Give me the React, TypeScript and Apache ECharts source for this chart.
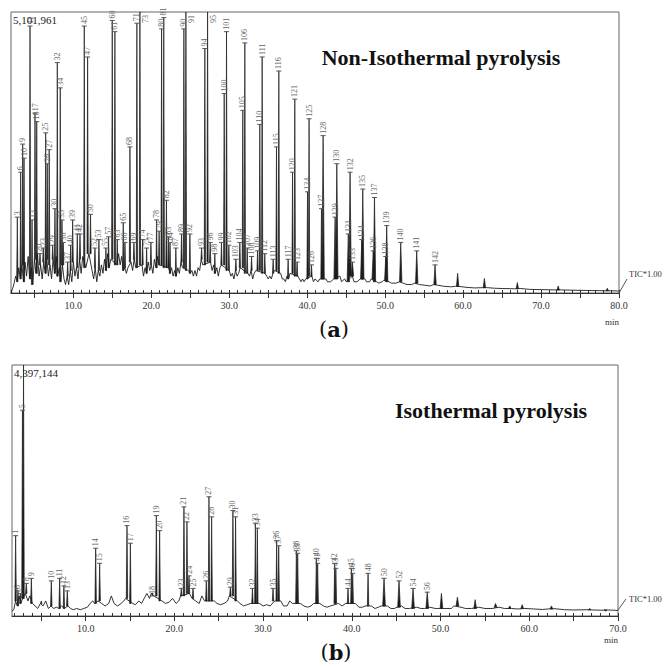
import React, { useEffect, useRef } from "react";
import * as echarts from "echarts";

// ---------- Panel (a): non-isothermal pyrolysis ----------
const FULL_SCALE_A = "5,101,961";
const X_MIN_A = 2;
const X_MAX_A = 80;
const MAJOR_TICKS_A = [5, 10, 15, 20, 25, 30, 35, 40, 45, 50, 55, 60, 65, 70, 75, 80];
const LABEL_TICKS_A = [10, 20, 30, 40, 50, 60, 70, 80];

// peak labels, retention times (min) and heights (% of full scale)
const PEAK_LABEL_A = ["3", "6", "9", "10", "11", "13", "17", "18", "20", "23", "25", "26", "27", "29", "30", "32", "34", "35", "36", "37", "40", "39", "41", "42", "45", "47", "50", "52", "53", "55", "57", "60", "61", "63", "65", "66", "68", "69", "71", "73", "74", "75", "77", "78", "79", "80", "81", "82", "83", "84", "87", "89", "90", "91", "92", "93", "94", "95", "96", "98", "99", "100", "101", "102", "103", "104", "105", "106", "107", "108", "109", "110", "111", "112", "113", "115", "116", "117", "120", "121", "123", "124", "125", "126", "127", "128", "129", "130", "131", "132", "133", "134", "135", "136", "137", "138", "139", "140", "141", "142", "", "", "", "", ""];
const PEAK_TIME_A = [2.81, 3.24, 3.5, 3.67, 4.44, 4.7, 5.08, 5.3, 5.72, 6.14, 6.45, 6.65, 6.9, 7.35, 7.64, 7.94, 8.32, 8.54, 8.7, 9.27, 9.65, 9.91, 10.5, 10.85, 11.4, 11.83, 12.2, 12.77, 13.28, 14.18, 14.52, 14.99, 15.33, 15.63, 16.4, 16.62, 17.26, 17.77, 18.15, 18.54, 18.88, 19.4, 19.95, 20.68, 21.0, 21.32, 21.6, 21.94, 22.2, 22.4, 23.15, 23.88, 24.18, 24.44, 24.95, 26.45, 26.87, 27.22, 27.55, 28.15, 29.0, 29.35, 29.65, 29.95, 30.85, 31.36, 31.74, 32.0, 32.3, 32.86, 33.63, 33.92, 34.22, 34.56, 35.63, 36.06, 36.36, 37.55, 38.12, 38.41, 38.7, 40.04, 40.24, 40.55, 41.83, 42.04, 43.58, 43.8, 45.27, 45.5, 45.8, 47.0, 47.13, 48.47, 48.63, 50.08, 50.2, 52.0, 54.05, 56.4, 59.3, 62.73, 66.96, 72.2, 78.5];
const PEAK_HEIGHT_A = [27, 43, 53, 48, 95, 26, 64, 61, 14, 16, 57, 46, 51, 17, 30, 82, 73, 26, 18, 11, 17, 26, 21, 21, 95, 84, 28, 16, 19, 16, 20, 97, 93, 19, 25, 18, 52, 18, 96, 104, 19, 16, 18, 26, 22, 94, 98, 33, 20, 18, 16, 21, 94, 105, 21, 16, 87, 103, 18, 14, 18, 71, 93, 17, 12, 18, 65, 89, 16, 13, 15, 60, 84, 14, 12, 52, 79, 12, 43, 69, 11, 36, 62, 10, 30, 56, 27, 46, 21, 43, 11, 19, 37, 15, 34, 13, 24, 18, 15, 10, 7, 5.2, 3.7, 2.5, 1.7];

// baseline trace [time, % of full scale]
const BASELINE_A = [
  [2.0, 0], [2.2, 1.5], [2.4, 3.5], [2.6, 6], [2.8, 4], [3.0, 9], [3.2, 5], [3.4, 10], [3.6, 4], [3.8, 11], [4.0, 6], [4.2, 13], [4.4, 5], [4.6, 9], [4.8, 3],
  [5.0, 12], [5.2, 7], [5.4, 14], [5.6, 6], [5.8, 10], [6.0, 5], [6.2, 11], [6.4, 7], [6.6, 12], [6.8, 6], [7.0, 10], [7.2, 5], [7.4, 12], [7.6, 7], [7.8, 13],
  [8.0, 6], [8.2, 9], [8.4, 4], [8.6, 10], [8.8, 5], [9.0, 3], [9.2, 6], [9.4, 3], [9.6, 8], [9.8, 4], [10.0, 11], [10.2, 6], [10.4, 9], [10.6, 5], [10.8, 12],
  [11.0, 7], [11.2, 13], [11.6, 9], [12.0, 14], [12.4, 8], [12.6, 5], [12.8, 9], [13.0, 4], [13.2, 8], [13.4, 6], [13.6, 10], [13.8, 7], [14.0, 12], [14.2, 8],
  [14.4, 14], [14.6, 9], [14.8, 12], [15.6, 10], [15.8, 14], [16.0, 10], [16.2, 13], [16.4, 8], [16.6, 9], [16.8, 7], [17.0, 9], [17.4, 11], [17.6, 8], [17.8, 12],
  [18.0, 9], [18.8, 10], [19.0, 6], [19.2, 9], [19.4, 7], [19.6, 11], [19.8, 8], [20.0, 10], [20.2, 7], [20.4, 12], [20.6, 9], [20.8, 13], [21.0, 10], [22.2, 9],
  [22.4, 7], [22.6, 9], [22.8, 6], [23.0, 8], [23.2, 6], [23.4, 9], [23.6, 7], [23.8, 11], [24.0, 9], [24.8, 8], [25.0, 7], [25.2, 8], [25.4, 6], [25.6, 8],
  [25.8, 6], [26.0, 9], [26.2, 8], [26.4, 12], [26.6, 10], [27.6, 11], [27.8, 8], [28.0, 10], [28.2, 7], [28.4, 9], [28.6, 6], [28.8, 9], [29.0, 10], [30.0, 8],
  [30.2, 6], [30.4, 7], [30.6, 5], [30.8, 8], [31.0, 6], [31.2, 7], [31.4, 9], [32.4, 7], [32.6, 6], [32.8, 8], [33.0, 5], [33.2, 7], [33.4, 8], [34.6, 7],
  [34.8, 6], [35.0, 5], [35.2, 6], [35.4, 5], [35.6, 7], [35.8, 8], [36.6, 7], [36.8, 5], [37.0, 5], [37.2, 4], [37.4, 6], [37.6, 5], [37.8, 7], [38.8, 6],
  [39.0, 5], [39.2, 4], [39.4, 5], [39.6, 4], [39.8, 5], [40.6, 6], [40.8, 4], [41.0, 5], [41.4, 4], [41.6, 5], [42.4, 5], [42.6, 4], [43.0, 4], [43.4, 5],
  [44.2, 6], [44.4, 4], [44.8, 5], [45.0, 4], [45.8, 6], [46.0, 4], [46.4, 4], [46.8, 5], [47.4, 5], [47.6, 4], [48.0, 4], [48.2, 5], [48.9, 4], [49.2, 3.5],
  [49.6, 4], [49.8, 4.5], [50.5, 4], [50.8, 3.5], [51.4, 3.5], [51.8, 4], [52.3, 3.5], [52.8, 3], [53.4, 3], [53.8, 3.5], [54.4, 3], [55.0, 2.8], [55.8, 2.5],
  [56.2, 3], [56.7, 2.8], [57.5, 2.4], [58.5, 2.2], [59.0, 2.4], [59.6, 2.3], [60.5, 2], [61.5, 1.8], [62.4, 1.9], [63.1, 1.9], [64.0, 1.7], [65.0, 1.6],
  [66.6, 1.5], [67.4, 1.6], [68.5, 1.3], [70.0, 1.2], [71.8, 1.1], [72.6, 1.1], [74.0, 1.0], [76.0, 0.9], [78.2, 0.8], [78.9, 0.8], [80.0, 0.7],
];

// ---------- Panel (b): isothermal pyrolysis ----------
const FULL_SCALE_B = "4,397,144";
const X_MIN_B = 1.7;
const X_MAX_B = 70;
const MAJOR_TICKS_B = [5, 10, 15, 20, 25, 30, 35, 40, 45, 50, 55, 60, 65, 70];
const LABEL_TICKS_B = [10, 20, 30, 40, 50, 60, 70];

const PEAK_LABEL_B = ["1", "6", "7", "5", "", "8", "9", "", "10", "11", "12", "13", "14", "15", "16", "17", "18", "19", "20", "23", "21", "22", "24", "25", "26", "27", "28", "29", "30", "31", "32", "33", "34", "35", "36", "37", "38", "39", "40", "41", "42", "43", "44", "45", "46", "48", "50", "52", "54", "56", "", "", "", "", "", "", "", "", ""];
const PEAK_TIME_B = [2.11, 2.37, 2.64, 2.88, 3.0, 3.31, 3.88, 5.0, 6.13, 7.07, 7.55, 7.93, 11.13, 11.58, 14.66, 15.04, 17.52, 17.97, 18.34, 20.78, 21.08, 21.42, 21.65, 22.1, 23.6, 23.9, 24.2, 26.31, 26.6, 26.9, 28.8, 29.13, 29.35, 31.12, 31.53, 31.76, 33.75, 33.9, 36.0, 36.15, 38.07, 38.2, 39.57, 39.95, 40.1, 41.83, 43.63, 45.32, 46.9, 48.5, 50.1, 51.9, 53.9, 56.2, 57.8, 59.2, 62.5, 66.8, 68.6];
const PEAK_HEIGHT_B = [32, 10, 9, 82, 100, 13, 15, 6, 14, 15, 12, 10, 27, 21, 36, 29, 8, 40, 34, 11, 43.5, 37.5, 16, 11, 14, 47.5, 39.5, 11.5, 42, 39.5, 11, 37, 35, 11, 30, 28, 26, 25, 23, 21, 21, 19, 11, 19, 17, 17, 15, 14, 11, 9.5, 9, 7.5, 6.5, 5, 4, 4.5, 4, 3, 2];

const BASELINE_B = [
  [1.7, 2], [1.9, 2.5], [2.1, 6], [2.3, 4], [2.5, 8], [2.7, 5], [2.9, 7], [3.2, 9], [3.5, 6], [3.7, 8], [4.0, 5], [4.3, 4], [4.6, 3], [4.9, 5], [5.2, 4],
  [5.5, 6], [5.8, 3], [6.1, 4], [6.4, 3], [6.7, 3.5], [7.0, 3], [7.3, 4], [7.6, 3], [8.0, 4], [8.3, 3], [8.6, 2.5], [9.0, 3], [9.4, 2.5], [9.8, 3], [10.2, 3.5],
  [10.5, 5], [10.8, 6], [11.0, 5], [11.4, 6], [11.8, 5], [12.2, 4], [12.6, 5], [12.9, 8], [13.2, 5], [13.6, 4], [14.0, 5], [14.3, 6], [14.5, 7], [15.3, 5],
  [15.6, 4.5], [16.0, 6], [16.3, 5], [16.6, 7], [16.9, 9], [17.2, 7], [17.4, 9], [17.7, 8], [18.6, 6], [19.0, 5], [19.4, 5.5], [19.8, 7], [20.2, 5], [20.5, 6],
  [20.7, 8], [21.7, 9], [22.0, 7], [22.4, 6], [22.8, 5], [23.1, 8], [23.4, 6], [24.5, 6], [24.8, 5], [25.2, 4.5], [25.6, 5], [26.0, 6], [26.2, 8], [27.1, 6],
  [27.4, 5], [27.8, 4], [28.2, 4.5], [28.6, 5], [29.6, 5], [30.0, 4], [30.4, 4.5], [30.8, 4], [31.3, 6], [32.0, 6], [32.3, 4], [32.7, 4], [33.0, 6], [33.3, 5],
  [34.2, 5], [34.6, 4], [35.0, 3.5], [35.4, 4], [35.7, 5], [36.4, 5], [36.8, 4], [37.2, 3.5], [37.6, 4], [38.5, 5], [38.9, 4], [39.3, 5], [40.4, 5], [40.8, 3.5],
  [41.2, 3.5], [41.5, 4], [42.2, 4], [42.6, 3], [43.0, 3.5], [43.3, 4], [44.0, 4], [44.4, 3], [44.8, 3], [45.1, 3.5], [45.6, 4], [46.0, 3], [46.5, 3],
  [47.3, 3.5], [47.8, 3], [48.2, 3], [48.8, 3.5], [49.4, 3], [49.8, 3], [50.5, 3], [51.2, 3], [51.5, 4], [52.3, 3.5], [52.8, 3], [53.5, 3], [54.3, 3.5],
  [55.0, 3], [55.8, 3], [56.6, 3.5], [57.2, 3], [58.0, 3], [58.7, 2.8], [59.5, 3], [60.5, 2.8], [61.5, 2.6], [62.1, 2.8], [62.9, 2.9], [64.0, 2.5], [65.0, 2.4],
  [66.4, 2.5], [67.2, 2.4], [68.2, 2.3], [68.9, 2.4], [70.0, 2.2],
];

const SERIF = "'Liberation Serif', 'DejaVu Serif', serif";
const INK = "#1c1c1c";

function minorTicks(min: number, max: number): number[] {
  const out: number[] = [];
  for (let v = Math.ceil(min); v <= max; v += 1) out.push(v);
  return out;
}

function nearestBase(base: number[][], t: number): number {
  let best = base[0][1];
  let bd = Infinity;
  for (const [bt, bv] of base) {
    const d = Math.abs(bt - t);
    if (d < bd) {
      bd = d;
      best = bv;
    }
  }
  return best;
}

function xAxes(gridIndex: number, min: number, max: number, major: number[], labels: number[]) {
  return [
    {
      type: "value", gridIndex, min, max,
      axisLine: { show: true, onZero: false, lineStyle: { color: "#333", width: 1 } },
      axisTick: { show: true, customValues: major, length: 5, lineStyle: { color: "#333" } },
      axisLabel: {
        show: true, customValues: labels, formatter: (v: number) => v.toFixed(1),
        fontFamily: SERIF, fontSize: 10, color: "#333", margin: 7,
      },
      splitLine: { show: false },
    },
    {
      type: "value", gridIndex, min, max,
      axisLine: { show: false },
      axisTick: { show: true, customValues: minorTicks(min, max), length: 3, lineStyle: { color: "#333" } },
      axisLabel: { show: false },
      splitLine: { show: false },
    },
  ];
}

function baselineSeries(xi: number, yi: number, data: number[][]) {
  return {
    type: "line", xAxisIndex: xi, yAxisIndex: yi, data, showSymbol: false, symbol: "none",
    lineStyle: { color: INK, width: 0.9 }, z: 2, clip: true, silent: true,
  };
}

function peakSeries(xi: number, yi: number, times: number[], heights: number[], base: number[][]) {
  return {
    type: "custom", xAxisIndex: xi, yAxisIndex: yi, clip: true, z: 3, silent: true,
    data: times.map((t, i) => [t, heights[i], nearestBase(base, t)]),
    encode: { x: 0, y: 1 },
    renderItem: (_p: any, api: any) => {
      const t = api.value(0);
      const h = api.value(1);
      const b = api.value(2);
      const w = t < 42 ? 0.08 : 0.15;
      const p0 = api.coord([t - w, b]);
      const p1 = api.coord([t, h]);
      const p2 = api.coord([t + w, b]);
      return {
        type: "polygon",
        shape: { points: [p0, p1, p2] },
        style: { fill: INK, stroke: INK, lineWidth: 0.7 },
      };
    },
  };
}

function labelSeries(xi: number, yi: number, times: number[], heights: number[], labels: string[]) {
  return {
    type: "custom", xAxisIndex: xi, yAxisIndex: yi, clip: false, z: 4, silent: true,
    data: times.map((t, i) => [t, heights[i]]),
    encode: { x: 0, y: 1 },
    renderItem: (params: any, api: any) => {
      const lab = labels[params.dataIndex];
      if (!lab) return null;
      const t = api.value(0);
      const h = api.value(1);
      const [x, y] = api.coord([t, h]);
      const cs = params.coordSys;
      const textStyle = { text: lab, fontSize: 8, fontFamily: SERIF, fill: "#666" };
      if (h > 99) {
        return {
          type: "text", x: x + 6, y: cs.y + 3, rotation: Math.PI / 2,
          style: { ...textStyle, align: "right", verticalAlign: "middle" },
        };
      }
      return {
        type: "group",
        children: [
          { type: "line", shape: { x1: x - 2.5, y1: y, x2: x + 2.5, y2: y }, style: { stroke: "#555", lineWidth: 1 } },
          {
            type: "text", x, y: y - 2, rotation: Math.PI / 2,
            style: { ...textStyle, align: "left", verticalAlign: "middle" },
          },
        ],
      };
    },
  };
}

export default function App() {
  const ref = useRef<HTMLDivElement>(null);

  useEffect(() => {
    if (!ref.current) return;
    const chart = echarts.init(ref.current, undefined, { renderer: "svg" });

    const paren = (letter: string) => ({
      text: `{p|(}{b|${letter}}{p|)}`, align: "center", verticalAlign: "middle",
      rich: {
        p: { fontFamily: "'DejaVu Serif', serif", fontSize: 21, fill: "#111" },
        b: { fontFamily: "'DejaVu Serif', serif", fontSize: 21, fontWeight: "bold", fill: "#111" },
      },
    });

    const option: any = {
      animation: false,
      backgroundColor: "#ffffff",
      grid: [
        { left: 11, top: 12, width: 608, height: 281, show: true, borderColor: "#666", borderWidth: 1, backgroundColor: "transparent" },
        { left: 12, top: 365, width: 606, height: 251, show: true, borderColor: "#666", borderWidth: 1, backgroundColor: "transparent" },
      ],
      xAxis: [
        ...xAxes(0, X_MIN_A, X_MAX_A, MAJOR_TICKS_A, LABEL_TICKS_A),
        ...xAxes(1, X_MIN_B, X_MAX_B, MAJOR_TICKS_B, LABEL_TICKS_B),
      ],
      yAxis: [
        { type: "value", gridIndex: 0, min: 0, max: 100, show: false },
        { type: "value", gridIndex: 1, min: 0, max: 100, show: false },
      ],
      series: [
        baselineSeries(0, 0, BASELINE_A),
        peakSeries(0, 0, PEAK_TIME_A, PEAK_HEIGHT_A, BASELINE_A),
        labelSeries(0, 0, PEAK_TIME_A, PEAK_HEIGHT_A, PEAK_LABEL_A),
        baselineSeries(2, 1, BASELINE_B),
        peakSeries(2, 1, PEAK_TIME_B, PEAK_HEIGHT_B, BASELINE_B),
        labelSeries(2, 1, PEAK_TIME_B, PEAK_HEIGHT_B, PEAK_LABEL_B),
      ],
      graphic: [
        { type: "text", x: 13, y: 20, z: 10, style: { text: FULL_SCALE_A, fontFamily: SERIF, fontSize: 11, fill: "#222", verticalAlign: "middle" } },
        { type: "text", x: 441, y: 57, z: 10, style: { text: "Non-Isothermal pyrolysis", fontFamily: SERIF, fontSize: 22, fontWeight: "bold", fill: "#111", align: "center", verticalAlign: "middle" } },
        { type: "line", z: 10, shape: { x1: 619, y1: 293, x2: 627, y2: 279 }, style: { stroke: "#555", lineWidth: 1 } },
        { type: "text", x: 629, y: 274, z: 10, style: { text: "TIC*1.00", fontFamily: SERIF, fontSize: 8.5, fill: "#333", verticalAlign: "middle" } },
        { type: "text", x: 612, y: 322, z: 10, style: { text: "min", fontFamily: SERIF, fontSize: 9, fill: "#333", align: "center", verticalAlign: "middle" } },
        { type: "text", x: 334, y: 329, z: 10, style: paren("a") },
        { type: "text", x: 14, y: 373, z: 10, style: { text: FULL_SCALE_B, fontFamily: SERIF, fontSize: 11, fill: "#222", verticalAlign: "middle" } },
        { type: "text", x: 491, y: 410, z: 10, style: { text: "Isothermal pyrolysis", fontFamily: SERIF, fontSize: 22, fontWeight: "bold", fill: "#111", align: "center", verticalAlign: "middle" } },
        { type: "line", z: 10, shape: { x1: 618, y1: 610, x2: 626, y2: 599 }, style: { stroke: "#555", lineWidth: 1 } },
        { type: "text", x: 629, y: 599, z: 10, style: { text: "TIC*1.00", fontFamily: SERIF, fontSize: 8.5, fill: "#333", verticalAlign: "middle" } },
        { type: "text", x: 611, y: 640, z: 10, style: { text: "min", fontFamily: SERIF, fontSize: 9, fill: "#333", align: "center", verticalAlign: "middle" } },
        { type: "text", x: 336, y: 652, z: 10, style: paren("b") },
      ],
    };

    chart.setOption(option);
    return () => chart.dispose();
  }, []);

  return (
    <div
      ref={ref}
      style={{ position: "fixed", left: 0, top: 0, width: 664, height: 667, background: "#fff" }}
    />
  );
}
